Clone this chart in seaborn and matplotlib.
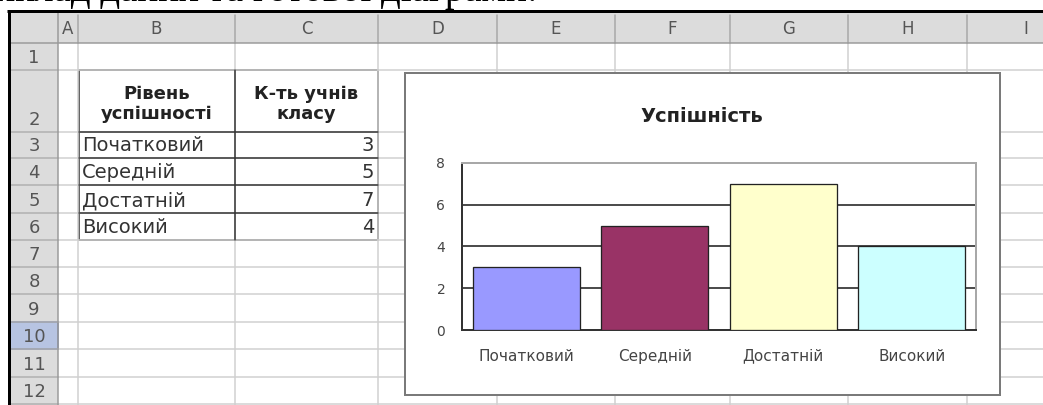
import matplotlib
matplotlib.use('Agg')
import matplotlib.pyplot as plt
import matplotlib.patches as patches
import seaborn as sns

# ================================================================
# data

levels = ['Початковий', 'Середній', 'Достатній', 'Високий']
counts = [3, 5, 7, 4]
bar_colors = ['#9999FF', '#993366', '#FFFFCC', '#CCFFFF']
chart_title = 'Успішність'
head_b = 'Рівень\nуспішності'
head_c = 'К-ть учнів\nкласу'
col_letters = ['A', 'B', 'C', 'D', 'E', 'F', 'G', 'H', 'I']
row_labels = ['1', '2', '3', '4', '5', '6', '7', '8', '9', '10', '11', '12']
caption = 'Приклад даних та готової діаграми:'

# ================================================================
# sheet geometry (pixels)

W, H = 1043, 405
col_edges = [58, 78, 235, 378, 497, 615, 730, 848, 967, 1085]
row_edges = [43, 70, 132, 158, 185, 213, 240, 267, 294, 322, 349, 377, 404]
PX = 0.72  # one pixel in points

sns.set_style('white')
plt.rcParams['font.family'] = ['DejaVu Sans']

fig = plt.figure(figsize=(W / 100, H / 100), dpi=100)
bg = fig.add_axes([0, 0, 1, 1])
bg.set_xlim(0, W)
bg.set_ylim(H, 0)
bg.axis('off')

# header fills
bg.add_patch(patches.Rectangle((10, 13), W - 10, 30, fc='#dcdcdc', ec='none'))
bg.add_patch(patches.Rectangle((10, 13), 48, H - 13, fc='#dcdcdc', ec='none'))
bg.add_patch(patches.Rectangle((10, row_edges[9]), 48, row_edges[10] - row_edges[9],
                               fc='#b7c4e2', ec='#6d80b3', lw=1.5 * PX))

# gridlines
for x in col_edges[1:]:
    bg.plot([x, x], [43, H], color='#d0d0d0', lw=1.5 * PX)
    bg.plot([x, x], [15, 43], color='#a8a8a8', lw=1.5 * PX)
for y in row_edges[1:]:
    bg.plot([58, W], [y, y], color='#d0d0d0', lw=1.5 * PX)
    bg.plot([10, 58], [y, y], color='#b0b0b0', lw=1.5 * PX)
bg.plot([10, W], [43, 43], color='#9a9a9a', lw=1.5 * PX)
bg.plot([58, 58], [13, H], color='#9a9a9a', lw=1.5 * PX)

# column letters and row numbers
for i, letter in enumerate(col_letters):
    xc = (col_edges[i] + col_edges[i + 1]) / 2
    if letter == 'A':
        xc = 68
    bg.text(xc, 29, letter, ha='center', va='center', fontsize=12, color='#555555')
for i, lab in enumerate(row_labels):
    bg.text(34, row_edges[i + 1] - 3, lab, ha='center', va='bottom', fontsize=13, color='#555555')

# black screenshot frame
bg.plot([7, W], [11, 11], color='black', lw=3 * PX, solid_capstyle='butt')
bg.plot([8.5, 8.5], [11, H], color='black', lw=3 * PX, solid_capstyle='butt')

# cut-off caption above the sheet
fig.text(-53 / W, 1 - 1 / H, caption, fontfamily='Liberation Serif', fontsize=28,
         va='baseline', ha='left', color='black')

# data table
tl, tm, tr = 79, 235, 378
bg.add_patch(patches.Rectangle((tl, 70), tr - tl, 240 - 70, fc='none', ec='#333333', lw=1.5 * PX))
bg.plot([tm, tm], [70, 240], color='#333333', lw=1.5 * PX)
for y in row_edges[2:6]:
    bg.plot([tl, tr], [y, y], color='#333333', lw=1.5 * PX)
bg.text((tl + tm) / 2, 104, head_b, ha='center', va='center', fontsize=13,
        fontweight='bold', color='#222222', linespacing=1.2)
bg.text((tm + tr) / 2, 104, head_c, ha='center', va='center', fontsize=13,
        fontweight='bold', color='#222222', linespacing=1.2)
for i, (lev, cnt) in enumerate(zip(levels, counts)):
    yc = row_edges[i + 3] - 7
    bg.text(82, yc, lev, ha='left', va='baseline', fontsize=14, color='#333333')
    bg.text(374, yc, str(cnt), ha='right', va='baseline', fontsize=14, color='#333333')

# chart area box
bg.add_patch(patches.Rectangle((405, 73), 595, 322, fc='white', ec='#7a7a7a', lw=2 * PX, zorder=5))
bg.text(702, 117, chart_title, ha='center', va='center', fontsize=14, fontweight='bold',
        color='#222222', zorder=6)

# ================================================================
# bar chart

ax = fig.add_axes([462 / W, 1 - 330 / H, (976 - 462) / W, (330 - 163) / H])
ax.set_facecolor('white')
sns.barplot(x=levels, y=counts, hue=levels, palette=bar_colors, legend=False, ax=ax,
            width=0.83, saturation=1, edgecolor='#222222', linewidth=1.3 * PX, zorder=3)
ax.set_ylim(0, 8)
ax.set_xlim(-0.5, len(levels) - 0.5)
ax.set_yticks([0, 2, 4, 6, 8])
ax.set_xticks([i + 0.5 for i in range(-1, len(levels))], minor=False)
ax.set_xticklabels([''] * (len(levels) + 1))
ax.set_xticks(range(len(levels)), minor=True)
ax.set_xticklabels(levels, minor=True)
for lbl in ax.get_xticklabels(minor=True):
    lbl.set_verticalalignment('baseline')
ax.tick_params(axis='x', which='major', length=4, width=1.2 * PX, color='#333333', direction='out')
ax.tick_params(axis='x', which='minor', length=0, pad=22, labelsize=11, labelcolor='#444444')
ax.tick_params(axis='y', length=6, width=1.2 * PX, color='#333333', direction='out',
               labelsize=10, labelcolor='#444444', pad=6)
ax.yaxis.grid(True, color='#3a3a3a', lw=1.8 * PX, zorder=0)
ax.set_axisbelow(True)
for side in ['left', 'bottom']:
    ax.spines[side].set_color('#333333')
    ax.spines[side].set_linewidth(2 * PX)
for side in ['top', 'right']:
    ax.spines[side].set_visible(True)
    ax.spines[side].set_color('#a8a8a8')
    ax.spines[side].set_linewidth(2 * PX)
ax.set_xlabel('')
ax.set_ylabel('')

fig.savefig('out.png', dpi=100)
plt.close(fig)
